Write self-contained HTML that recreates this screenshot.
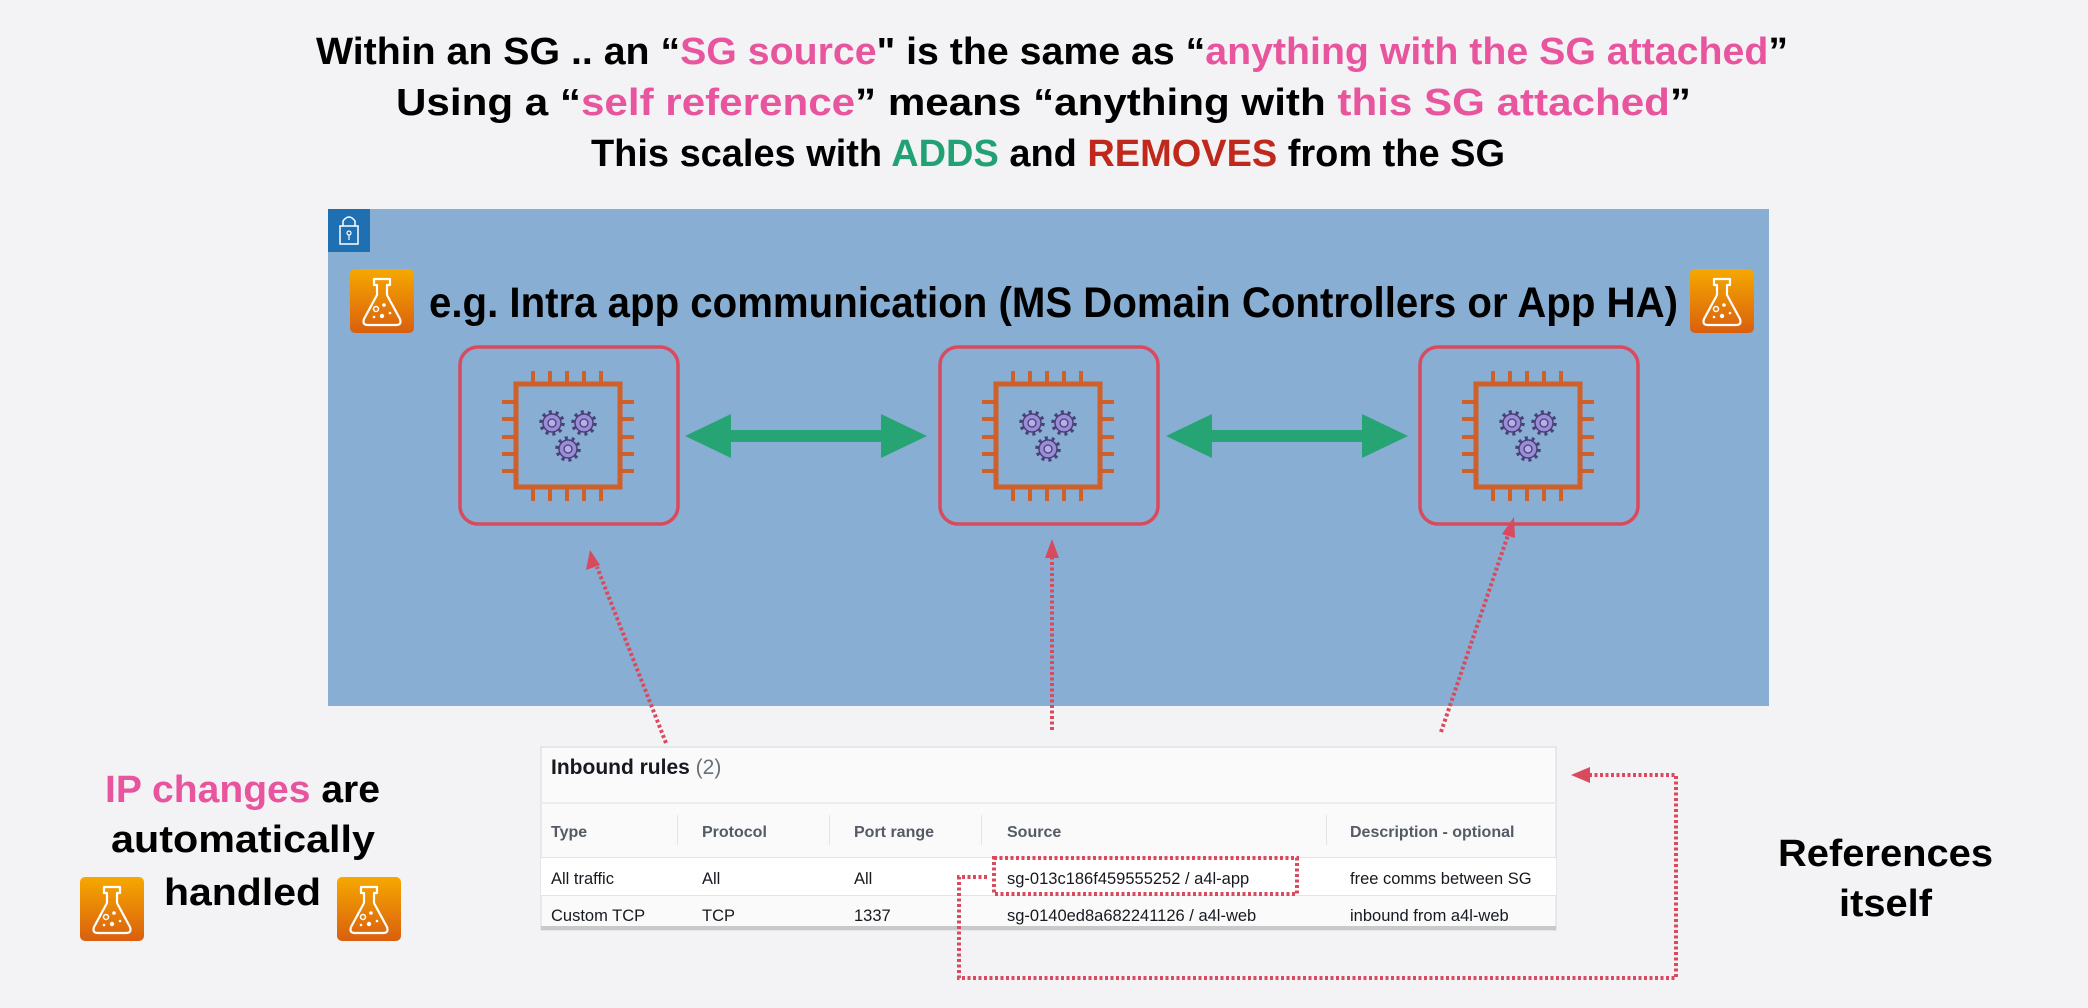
<!DOCTYPE html>
<html><head><meta charset="utf-8"><style>
html,body{margin:0;padding:0;background:#f3f3f5;}
svg{display:block;}
.t{font-family:"Liberation Sans",sans-serif;font-weight:bold;}
.tb{font-family:"Liberation Sans",sans-serif;}
</style></head><body>
<svg width="2088" height="1008" viewBox="0 0 2088 1008" xmlns="http://www.w3.org/2000/svg">
<defs>
<linearGradient id="og" x1="0" y1="0" x2="0" y2="1"><stop offset="0" stop-color="#f6a800"/><stop offset="1" stop-color="#d95f0e"/></linearGradient>
<g id="flask">
<rect x="0" y="0" width="64" height="64" rx="5" fill="url(#og)"/>
<path d="M24 10 H40 V16 H37 V26 L50 50 Q52 56 46 56 H18 Q12 56 14 50 L27 26 V16 H24 Z" fill="none" stroke="#fff" stroke-width="2.2" stroke-linejoin="round"/>
<circle cx="26" cy="40" r="2.5" fill="none" stroke="#fff" stroke-width="1.5"/><circle cx="34" cy="36" r="1.8" fill="#fff"/><circle cx="32" cy="47" r="2.2" fill="#fff"/><circle cx="24" cy="48" r="1.3" fill="#fff"/><circle cx="40" cy="44" r="1.3" fill="#fff"/>
</g>
<g id="gear">
<circle r="9" fill="#9a8fd6" stroke="#4a3f7a" stroke-width="1.5"/>
<circle r="11" fill="none" stroke="#4a3f7a" stroke-width="3.5" stroke-dasharray="3 3.9"/>
<circle r="4" fill="#b7aee6" stroke="#4a3f7a" stroke-width="1.3"/>
</g>
<g id="node">
<rect x="460" y="347" width="218" height="177" rx="18" fill="none" stroke="#d94a5e" stroke-width="3.5"/>
<rect x="516" y="384" width="104" height="103" fill="none" stroke="#d0602a" stroke-width="5"/>
<g stroke="#d0602a" stroke-width="4">
<path d="M533 371V384M550 371V384M567 371V384M584 371V384M601 371V384"/>
<path d="M533 487V501M550 487V501M567 487V501M584 487V501M601 487V501"/>
<path d="M502 402H516M502 419H516M502 437H516M502 454H516M502 471H516"/>
<path d="M620 402H634M620 419H634M620 437H634M620 454H634M620 471H634"/>
</g>
<use href="#gear" x="552" y="423"/><use href="#gear" x="584" y="423"/><use href="#gear" x="568" y="449"/>
</g>
<g id="garrow">
<polygon points="685,436 731,414 731,430 881,430 881,414 927,436 881,458 881,442 731,442 731,458" fill="#26a474"/>
</g>
</defs>

<text class="t" font-size="38" x="316" y="64" textLength="1472" lengthAdjust="spacingAndGlyphs">Within an SG .. an “<tspan fill="#e8559e">SG source</tspan>" is the same as “<tspan fill="#e8559e">anything with the SG attached</tspan>”</text>
<text class="t" font-size="38" x="396" y="115" textLength="1295" lengthAdjust="spacingAndGlyphs">Using a “<tspan fill="#e8559e">self reference</tspan>” means “anything with <tspan fill="#e8559e">this SG attached</tspan>”</text>
<text class="t" font-size="38" x="591" y="166" textLength="914" lengthAdjust="spacingAndGlyphs">This scales with <tspan fill="#22a274">ADDS</tspan> and <tspan fill="#c0281c">REMOVES</tspan> from the SG</text>

<rect x="328" y="209" width="1441" height="497" fill="#88aed3"/>
<rect x="328" y="209" width="42" height="43" fill="#1f6fb3"/>
<path d="M343 226 V221 Q349 213 355 221 V226" fill="none" stroke="#fff" stroke-width="1.5"/>
<rect x="340" y="226" width="18" height="18" fill="none" stroke="#fff" stroke-width="1.5"/>
<circle cx="349" cy="233" r="2" fill="none" stroke="#fff" stroke-width="1.2"/><path d="M349 235V240" stroke="#fff" stroke-width="1.2"/>

<use href="#flask" x="350" y="269"/>
<use href="#flask" x="1690" y="269"/>
<text class="t" font-size="43" x="429" y="317" textLength="1249" lengthAdjust="spacingAndGlyphs">e.g. Intra app communication (MS Domain Controllers or App HA)</text>

<use href="#node"/>
<use href="#node" x="480"/>
<use href="#node" x="960"/>
<use href="#garrow"/>
<use href="#garrow" x="481"/>

<g stroke="#d94a5e" stroke-width="4" stroke-dasharray="3 2.5" fill="none">
<path d="M666 743 L597 567"/>
<path d="M1052 730 V558"/>
<path d="M1441 732 L1508 535"/>
</g>
<g fill="#d94a5e">
<polygon points="590,550 586,570 600,565"/>
<polygon points="1052,539 1045,558 1059,558"/>
<polygon points="1514,517 1502,534 1515,538"/>
<polygon points="1571,775 1590,767 1590,783"/>
</g>

<rect x="541" y="747" width="1015" height="183" fill="#fafafa" stroke="#d8d8d8" stroke-width="1"/>
<rect x="541" y="926" width="1015" height="4" fill="#c9c9c9"/>
<text class="tb" font-size="21" x="551" y="774"><tspan font-weight="bold" fill="#16191f">Inbound rules</tspan><tspan fill="#687078"> (2)</tspan></text>
<rect x="541" y="802" width="1015" height="2" fill="#eaeded"/>
<g fill="#e4e4e4"><rect x="677" y="815" width="1" height="30"/><rect x="829" y="815" width="1" height="30"/><rect x="981" y="815" width="1" height="30"/><rect x="1326" y="815" width="1" height="30"/></g>
<g class="tb" font-size="16" font-weight="bold" fill="#545b64">
<text x="551" y="837">Type</text><text x="702" y="837">Protocol</text><text x="854" y="837">Port range</text><text x="1007" y="837">Source</text><text x="1350" y="837">Description - optional</text>
</g>
<rect x="541" y="857" width="1015" height="38" fill="#fff"/>
<rect x="541" y="857" width="1015" height="1" fill="#e4e4e4"/>
<rect x="541" y="895" width="1015" height="1" fill="#e4e4e4"/>
<g class="tb" font-size="16.5" fill="#16191f">
<text x="551" y="884">All traffic</text><text x="702" y="884">All</text><text x="854" y="884">All</text><text x="1007" y="884">sg-013c186f459555252 / a4l-app</text><text x="1350" y="884">free comms between SG</text>
<text x="551" y="921">Custom TCP</text><text x="702" y="921">TCP</text><text x="854" y="921">1337</text><text x="1007" y="921">sg-0140ed8a682241126 / a4l-web</text><text x="1350" y="921">inbound from a4l-web</text>
</g>
<g stroke="#d94a5e" stroke-width="4" stroke-dasharray="3 2.5" fill="none">
<rect x="994" y="858" width="303" height="36"/>
<path d="M987 877 H959 V978 H1676 V775 H1590"/>
</g>

<text class="t" font-size="38" x="105" y="802" textLength="275" lengthAdjust="spacingAndGlyphs"><tspan fill="#e8559e">IP changes</tspan> are</text>
<text class="t" font-size="38" x="111" y="852" textLength="264" lengthAdjust="spacingAndGlyphs">automatically</text>
<text class="t" font-size="38" x="164" y="905" textLength="157" lengthAdjust="spacingAndGlyphs">handled</text>
<use href="#flask" x="80" y="877"/>
<use href="#flask" x="337" y="877"/>

<text class="t" font-size="38" x="1778" y="866" textLength="215" lengthAdjust="spacingAndGlyphs">References</text>
<text class="t" font-size="38" x="1839" y="916" textLength="93" lengthAdjust="spacingAndGlyphs">itself</text>
</svg>
</body></html>
